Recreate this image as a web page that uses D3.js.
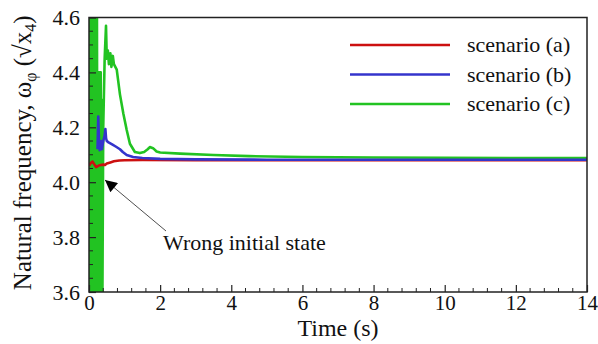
<!DOCTYPE html>
<html><head><meta charset="utf-8">
<script src="https://cdn.jsdelivr.net/npm/d3@7/dist/d3.min.js"></script>
<style>
html,body{margin:0;padding:0;background:#fff;}
svg text{font-family:"Liberation Serif","Times New Roman",serif !important;}
</style></head>
<body>
<svg id="c" width="598" height="344"></svg>
<script>
// ---- data ----
const xTicks = [0, 2, 4, 6, 8, 10, 12, 14];
const yTicks = [3.6, 3.8, 4.0, 4.2, 4.4, 4.6];
const seriesNames = ["scenario (a)", "scenario (b)", "scenario (c)"];
const seriesColors = ["#cc1010", "#3434cc", "#22c322"];

const timeA = [0, 0.05, 0.1, 0.15, 0.2, 0.3, 0.4, 0.45, 0.5, 0.6, 0.7, 0.85, 1.0, 1.5, 3, 6, 10, 14];
const valA  = [4.06, 4.07, 4.075, 4.065, 4.055, 4.062, 4.064, 4.063, 4.068, 4.072, 4.076, 4.079, 4.080, 4.081, 4.080, 4.080, 4.080, 4.080];

const timeB = [0.24, 0.26, 0.28, 0.30, 0.33, 0.36, 0.40, 0.44, 0.46, 0.48, 0.50, 0.55, 0.65, 0.75, 0.87, 0.95, 1.06, 1.24, 1.5, 2.0, 3.0, 5.0, 8.0, 14];
const valB  = [4.12, 4.239, 4.15, 4.117, 4.15, 4.12, 4.15, 4.17, 4.194, 4.16, 4.15, 4.145, 4.138, 4.13, 4.12, 4.11, 4.099, 4.092, 4.088, 4.085, 4.083, 4.082, 4.082, 4.082];

const timeC = [0, 0.01, 0.02, 0.03, 0.04, 0.05, 0.06, 0.07, 0.08, 0.09, 0.10, 0.11, 0.12, 0.13, 0.14, 0.15, 0.16, 0.17, 0.18, 0.19, 0.20, 0.21, 0.22,
  0.24, 0.25, 0.26, 0.27, 0.28, 0.29, 0.30, 0.31, 0.32, 0.33, 0.34, 0.35, 0.37, 0.40, 0.44, 0.478,
  0.50, 0.53, 0.56, 0.60, 0.63, 0.67, 0.70, 0.78, 0.87, 0.965, 1.06, 1.15, 1.29, 1.43, 1.55, 1.65, 1.71, 1.8, 1.9, 2.0, 2.56, 3.5, 4.5, 6, 8, 10, 12, 14];
const valC  = [4.9, 3.2, 4.9, 3.2, 4.9, 3.2, 4.9, 3.2, 4.9, 3.2, 4.9, 3.2, 4.9, 3.2, 4.9, 3.2, 4.9, 3.2, 4.9, 3.2, 4.9, 3.2, 4.9,
  3.3, 4.3, 3.3, 4.4, 3.3, 4.4, 3.3, 4.4, 3.3, 4.4, 3.3, 4.3, 3.4, 4.2, 4.45, 4.57,
  4.45, 4.48, 4.43, 4.47, 4.42, 4.46, 4.43, 4.41, 4.32, 4.25, 4.19, 4.14, 4.11, 4.106, 4.11, 4.12, 4.128, 4.124, 4.112, 4.108, 4.104, 4.099, 4.095, 4.092, 4.090, 4.089, 4.088, 4.088];

// ---- layout ----
const W = 598, H = 344;
const m = {left: 89, right: 11, top: 17.5, bottom: 52};
const pw = W - m.left - m.right, ph = H - m.top - m.bottom;
const svg = d3.select("#c");
const x = d3.scaleLinear().domain([0, 14]).range([m.left, m.left + pw]);
const y = d3.scaleLinear().domain([3.6, 4.6]).range([m.top + ph, m.top]);
const FONT = "'Liberation Serif', 'Times New Roman', serif";

svg.append("defs").append("clipPath").attr("id", "clip")
  .append("rect").attr("x", m.left).attr("y", m.top).attr("width", pw).attr("height", ph);

const line = d3.line().x(d => x(d[0])).y(d => y(d[1]));
const plot = svg.append("g").attr("clip-path", "url(#clip)");
const dataC = timeC.map((t, i) => [t, valC[i]]);
const dataA = timeA.map((t, i) => [t, valA[i]]);
const dataB = timeB.map((t, i) => [t, valB[i]]);
[[dataC, 2], [dataA, 0], [dataB, 1]].forEach(([d, k]) => {
  plot.append("path").datum(d).attr("d", line).attr("fill", "none")
    .attr("stroke", seriesColors[k]).attr("stroke-width", 2.6).attr("stroke-linejoin", "round");
});

// axes (ticks inside)
const xMinor = d3.range(0, 14.001, 0.4).filter(v => !xTicks.some(t => Math.abs(t - v) < 1e-6));
const yMinor = d3.range(3.6, 4.6001, 0.05).filter(v => !yTicks.some(t => Math.abs(t - v) < 1e-6));
const xAxis = svg.append("g").attr("transform", `translate(0,${m.top + ph})`)
  .call(d3.axisBottom(x).tickValues(xTicks).tickSize(-7).tickPadding(3).tickFormat(d3.format("d")));
xAxis.attr("font-family", FONT).attr("font-size", 21);
xAxis.select(".domain").remove();
xAxis.selectAll("text").style("font-family", FONT).style("font-size", "21px").attr("fill", "#111");
xAxis.selectAll("line").attr("stroke", "#222").attr("stroke-width", 1.2);
svg.append("g").selectAll("line").data(xMinor).join("line")
  .attr("x1", d => x(d)).attr("x2", d => x(d)).attr("y1", m.top + ph).attr("y2", m.top + ph - 4)
  .attr("stroke", "#222").attr("stroke-width", 1);

const yAxis = svg.append("g").attr("transform", `translate(${m.left},0)`)
  .call(d3.axisLeft(y).tickValues(yTicks).tickSize(-7).tickPadding(9).tickFormat(d3.format(".1f")));
yAxis.attr("font-family", FONT).attr("font-size", 22);
yAxis.select(".domain").remove();
yAxis.selectAll("text").style("font-family", FONT).style("font-size", "22px").attr("fill", "#111");
yAxis.selectAll("line").attr("stroke", "#222").attr("stroke-width", 1.2);
svg.append("g").selectAll("line").data(yMinor).join("line")
  .attr("x1", m.left).attr("x2", m.left + 4).attr("y1", d => y(d)).attr("y2", d => y(d))
  .attr("stroke", "#222").attr("stroke-width", 1);

// frame
svg.append("rect").attr("x", m.left).attr("y", m.top).attr("width", pw).attr("height", ph)
  .attr("fill", "none").attr("stroke", "#222").attr("stroke-width", 1.5);

// axis titles
svg.append("text").attr("x", x(7)).attr("y", 336).attr("text-anchor", "middle")
  .style("font-family", FONT).style("font-size", "24px").attr("fill", "#111").text("Time (s)");
const yt = svg.append("text").attr("transform", `translate(31,${m.top + ph / 2 - 2}) rotate(-90)`)
  .attr("text-anchor", "middle").style("font-family", FONT).style("font-size", "25px").attr("fill", "#111");
yt.append("tspan").text("Natural frequency, ω");
yt.append("tspan").style("font-size", "16px").attr("dy", 5).text("φ");
yt.append("tspan").attr("dy", -5).text(" (√x");
yt.append("tspan").style("font-size", "16px").attr("dy", 5).text("4");
yt.append("tspan").attr("dy", -5).text(")");

// legend
const lg = svg.append("g");
seriesNames.forEach((n, i) => {
  const ly = 45 + i * 29.5;
  lg.append("line").attr("x1", 350).attr("x2", 450).attr("y1", ly).attr("y2", ly)
    .attr("stroke", seriesColors[i]).attr("stroke-width", 2.6);
  lg.append("text").attr("x", 467).attr("y", ly + 7).style("font-family", FONT).style("font-size", "22px")
    .attr("fill", "#111").text(n);
});

// annotation
svg.append("defs").append("marker").attr("id", "ah").attr("viewBox", "0 0 10 10")
  .attr("refX", 10).attr("refY", 5).attr("markerWidth", 22).attr("markerHeight", 12)
  .attr("markerUnits", "userSpaceOnUse").attr("orient", "auto")
  .append("path").attr("d", "M0,0 L10,5 L0,10 Z").attr("fill", "#000");
svg.append("line").attr("x1", 166).attr("y1", 231).attr("x2", 105).attr("y2", 180)
  .attr("stroke", "#222").attr("stroke-width", 0.8).attr("marker-end", "url(#ah)");
svg.append("text").attr("x", 163).attr("y", 250).style("font-family", FONT).style("font-size", "22px")
  .attr("fill", "#111").text("Wrong initial state");
</script>
</body></html>
